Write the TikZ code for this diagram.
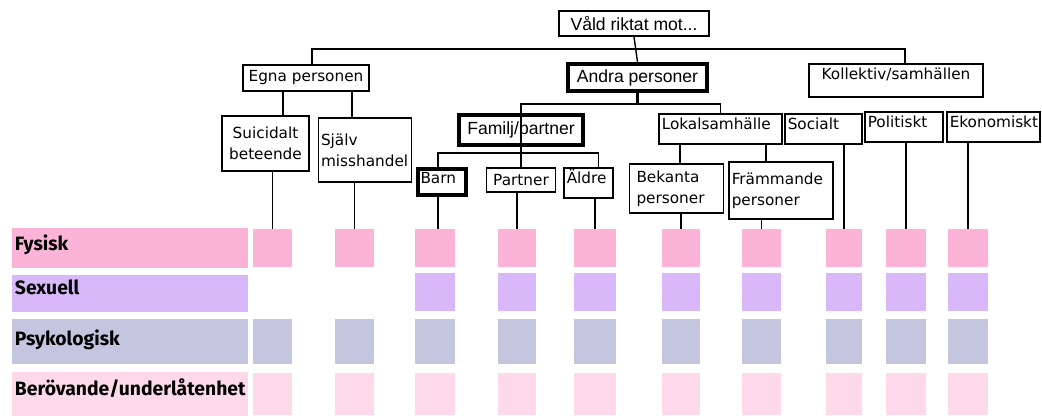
\documentclass[tikz,border=0pt]{standalone}
\usepackage{fontspec}
\newfontfamily\rutfont{DejaVu Sans}
\newfontfamily\rubrikfont{Liberation Sans}
\newfontfamily\stapelfont{Fira Sans}
\usepackage{tikz}

\definecolor{fysiskfarg}{RGB}{251,180,215}
\definecolor{sexuellfarg}{RGB}{217,184,250}
\definecolor{psykfarg}{RGB}{196,198,224}
\definecolor{berovfarg}{RGB}{253,217,234}

\tikzset{
  ruta/.style={draw, line width=0.9pt, fill=white, inner sep=1.5pt,
    font=\rutfont\fontsize{8.7}{12}\selectfont},
  rubrik/.style={font=\rubrikfont\fontsize{10}{12}\selectfont},
  tjock/.style={line width=2.4pt},
  vanster/.style={align=left, text width=#1},
  uppe/.style={text height=7pt, text depth=#1},
  linje/.style={line width=0.8pt},
  tjocklinje/.style={line width=1.7pt},
  stapel/.style={anchor=west, inner xsep=1.5pt, inner ysep=0pt, align=left,
    text width=4.6cm, text height=7.5pt, text depth=#1,
    font=\stapelfont\bfseries\fontsize{11}{12}\selectfont},
  kvadrat/.style={inner sep=0pt}
}

\begin{document}
\begin{tikzpicture}[x=0.02cm, y=-0.02cm]
\useasboundingbox (0,0) rectangle (1042,416);

% Staplar till vanster
\node[stapel=4.5pt, fill=fysiskfarg, minimum height=0.8cm] (fysisk) at (12,248) {Fysisk};
\node[stapel=6.5pt, fill=sexuellfarg, minimum height=0.74cm] (sexuell) at (12,293.5) {Sexuell};
\node[stapel=3pt, fill=psykfarg, minimum height=0.9cm] (psyk) at (12,341.5) {Psykologisk};
\node[stapel=5.5pt, fill=berovfarg, minimum height=0.88cm] (berov) at (12,394) {Berövande/underlåtenhet};

% Kvadrater
\foreach \k/\xa/\xb in {1/253/292, 2/335/374, 3/415/455, 4/498/536, 5/574/616,
                        6/662/700, 7/742/781, 8/826/862, 9/886/926, 10/948/988} {
  \foreach \rad/\ya/\yb/\farg in {f/229/267/fysiskfarg, p/319/364/psykfarg, b/373/415/berovfarg}
    \node[kvadrat, fill=\farg, minimum width={(\xb-\xa)*0.02cm}, minimum height={(\yb-\ya)*0.02cm}]
      (\rad\k) at ({(\xa+\xb)/2},{(\ya+\yb)/2}) {};
}
\foreach \k/\xa/\xb in {3/415/455, 4/498/536, 5/574/616, 6/662/700, 7/742/781,
                        8/826/862, 9/886/926, 10/948/988}
  \node[kvadrat, fill=sexuellfarg, minimum width={(\xb-\xa)*0.02cm}, minimum height=0.76cm]
    (s\k) at ({(\xa+\xb)/2},292) {};

% Trädet
\node[ruta, rubrik, minimum width=3cm, minimum height=0.5cm] (rot) at (634,23.5) {Våld riktat mot...};
\node[ruta, minimum width=2.52cm, minimum height=0.52cm] (egna) at (306,78) {Egna personen};
\node[ruta, rubrik, tjock, minimum width=2.78cm, minimum height=0.54cm] (andra) at (637.5,77.5) {Andra personer};
\node[ruta, uppe=8.7pt, minimum width=3.48cm] (kollektiv) at (896,80.5) {Kollektiv/samhällen};

\node[ruta, align=center, minimum width=1.74cm, minimum height=1.1cm] (suic) at (265.5,143.5) {Suicidalt\\beteende};
\node[ruta, vanster=1.76cm, minimum height=1.28cm] (sjalv) at (365,150) {Själv\\misshandel};
\node[ruta, rubrik, tjock, minimum width=2.48cm, minimum height=0.6cm] (familj) at (521,130) {Familj/partner};
\node[ruta, vanster=2.35cm, uppe=7pt] (lokal) at (720.5,129) {Lokalsamhälle};
\node[ruta, vanster=1.43cm, uppe=7pt] (socialt) at (823.5,129) {Socialt};
\node[ruta, vanster=1.45cm, uppe=7pt] (politiskt) at (904,127) {Politiskt};
\node[ruta, vanster=1.75cm, uppe=7pt] (ekonomiskt) at (993.5,127) {Ekonomiskt};

\node[ruta, tjock, vanster=0.86cm, uppe=5pt] (barn) at (442,182) {Barn};
\node[ruta, minimum width=1.38cm, minimum height=0.48cm] (partner) at (521,180) {Partner};
\node[ruta, vanster=0.87cm, uppe=7pt] (aldre) at (588.5,183) {Äldre};
\node[ruta, vanster=1.6cm, inner xsep=4pt, minimum height=0.98cm] (bekanta) at (676.5,188.5) {Bekanta\\personer};
\node[ruta, vanster=1.97cm, minimum height=1.14cm] (frammande) at (781,190.5) {Främmande\\personer};

% Linjer i trädet
\coordinate (buss1) at (0,49);
\coordinate (buss2) at (0,104);
\coordinate (buss3) at (0,153);
\draw[linje] (rot.south) -- (andra.north);
\draw[linje] ([xshift=0.12cm]egna.north) |- ([xshift=0.18cm]kollektiv.north |- buss1)
  -- ([xshift=0.18cm]kollektiv.north);
\draw[linje] ([xshift=0.35cm]suic.north) -- ([xshift=0.35cm]suic.north |- egna.south);
\draw[linje] ([xshift=-0.26cm]sjalv.north) -- ([xshift=-0.26cm]sjalv.north |- egna.south);

\draw[tjocklinje] (andra.south) |- (familj.north |- buss2) -- (familj.north);
\draw[linje] (andra.south |- buss2) -| (lokal.north);
\draw[linje] (familj.north) -- (partner.north);
\draw[tjocklinje] (familj.south |- buss3) -| ([xshift=-0.08cm]barn.north);
\draw[linje] (familj.south |- buss3) -| ([xshift=0.2cm]aldre.north);
\draw[linje] ([xshift=0.07cm]bekanta.north) -- ([xshift=0.07cm]bekanta.north |- lokal.south);
\draw[linje] ([xshift=-0.3cm]frammande.north) -- ([xshift=-0.3cm]frammande.north |- lokal.south);

% Linjer ner till kvadraterna
\foreach \nod/\k in {suic/1, sjalv/2, partner/4, aldre/5, bekanta/6, frammande/7,
                     socialt/8, politiskt/9, ekonomiskt/10}
  \draw[linje] (f\k.north) -- (f\k.north |- \nod.south);
\draw[tjocklinje] ([xshift=0.06cm]f3.north) -- ([xshift=0.06cm]f3.north |- barn.south);

\end{tikzpicture}
\end{document}
